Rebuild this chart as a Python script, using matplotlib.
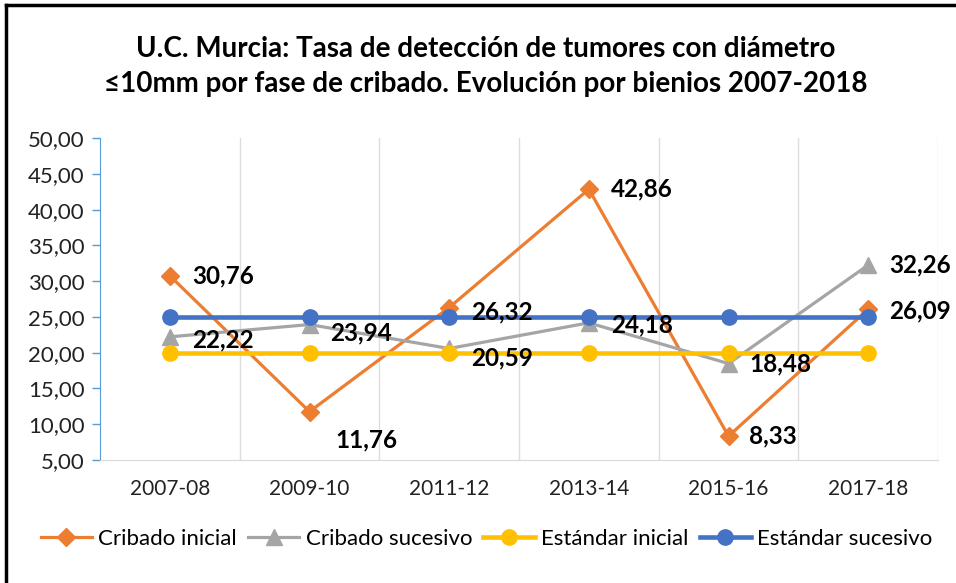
import numpy as np
import matplotlib
matplotlib.use("Agg")
import matplotlib.pyplot as plt
from matplotlib.lines import Line2D
from matplotlib.ticker import FuncFormatter, FixedLocator

plt.rcParams['font.family'] = ['Lato', 'DejaVu Sans']

bienios = ["2007-08", "2009-10", "2011-12", "2013-14", "2015-16", "2017-18"]
cribado_inicial = [30.76, 11.76, 26.32, 42.86, 8.33, 26.09]
cribado_sucesivo = [22.22, 23.94, 20.59, 24.18, 18.48, 32.26]
estandar_inicial = [20, 20, 20, 20, 20, 20]
estandar_sucesivo = [25, 25, 25, 25, 25, 25]

# label offsets in pixels (dx, dy) for each data label
off_inicial = [(22, 0), (26, -28), (22, -4), (22, 0), (20, 0), (21, -2)]
off_sucesivo = [(22, -3), (21, -8), (22, -9), (22, -2), (21, 0), (21, 0)]

fig = plt.figure(figsize=(9.56, 5.83), dpi=100)
ax = fig.add_axes([0.1046, 0.211, 0.8766, 0.552])

x = np.arange(len(bienios))

ax.plot(x, cribado_inicial, color='#ED7D31', lw=2.3, marker='D', ms=9,
        label='Cribado inicial', zorder=3)
ax.plot(x, cribado_sucesivo, color='#A5A5A5', lw=2.3, marker='^', ms=11,
        label='Cribado sucesivo', zorder=4)
ax.plot(x, estandar_inicial, color='#FFC000', lw=3.3, marker='o', ms=11,
        label='Estándar inicial', zorder=5)
ax.plot(x, estandar_sucesivo, color='#4472C4', lw=3.3, marker='o', ms=11,
        label='Estándar sucesivo', zorder=6)

for xi, v, o in zip(x, cribado_inicial, off_inicial):
    ax.annotate(f"{v:.2f}".replace('.', ','), (xi, v), xytext=o,
                textcoords='offset pixels', ha='left', va='center',
                fontsize=17.5, fontweight='bold', color='black', zorder=7)
for xi, v, o in zip(x, cribado_sucesivo, off_sucesivo):
    ax.annotate(f"{v:.2f}".replace('.', ','), (xi, v), xytext=o,
                textcoords='offset pixels', ha='left', va='center',
                fontsize=17.5, fontweight='bold', color='black', zorder=7)

ax.set_xlim(-0.5, 5.5)
ax.set_ylim(5, 50)
ax.set_yticks(np.arange(5, 51, 5))
ax.yaxis.set_major_formatter(FuncFormatter(lambda v, p: f"{v:.2f}".replace('.', ',')))
ax.set_xticks(x)
ax.set_xticklabels(bienios)
ax.xaxis.set_minor_locator(FixedLocator(np.arange(0.5, 6, 1)))
ax.grid(True, which='minor', axis='x', color='#DDDDDD', lw=1)
ax.tick_params(axis='x', which='both', length=0, labelsize=15, colors='#222222', pad=14)
ax.tick_params(axis='y', length=6, width=1, color='#5B9BD5', labelsize=16,
               labelcolor='#222222', pad=5)

for s in ['top', 'right']:
    ax.spines[s].set_visible(False)
ax.spines['left'].set_color('#5B9BD5')
ax.spines['bottom'].set_color('#D9D9D9')

fig.text(0.508, 0.886, "U.C. Murcia: Tasa de detección de tumores con diámetro\n"
         "≤10mm por fase de cribado. Evolución por bienios 2007-2018",
         ha='center', va='center', fontsize=20, fontweight='bold',
         linespacing=1.4)

fig.legend(loc='center', bbox_to_anchor=(0.509, 0.076), ncol=4, frameon=False,
           fontsize=16, handlelength=2.3, handletextpad=0.3, columnspacing=0.5)

# frame lines on the left and top
fig.add_artist(Line2D([0.006, 0.006], [0, 0.991], color='black', lw=2.5,
                      transform=fig.transFigure))
fig.add_artist(Line2D([0.006, 1], [0.991, 0.991], color='black', lw=2.5,
                      transform=fig.transFigure))

fig.savefig("out.png", dpi=100)
